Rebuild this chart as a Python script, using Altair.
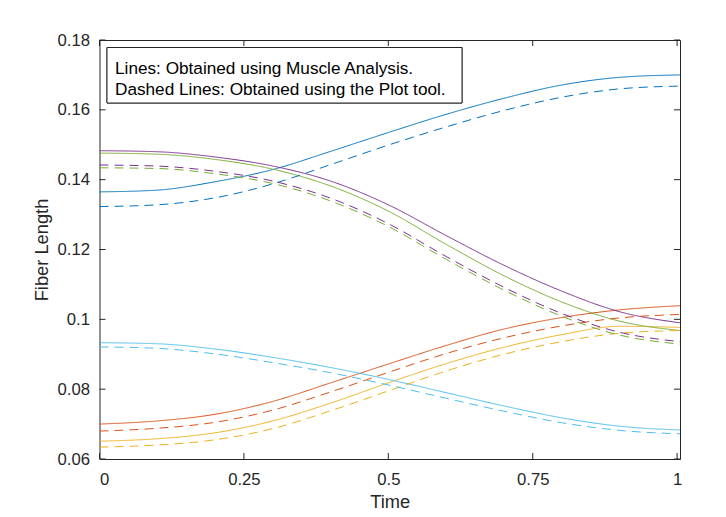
import altair as alt
import pandas as pd

# ---- data ----
times = [0.0, 0.1, 0.2, 0.3, 0.4, 0.5, 0.6, 0.7, 0.8, 0.9, 1.005]

muscle_names = ["M1", "M2", "M3", "M4", "M5", "M6"]
muscle_colors = ["#0072BD", "#D95319", "#EDB120", "#7E2F8E", "#77AC30", "#4DBEEE"]

# Solid lines: Muscle Analysis
ma_m1 = [0.1365, 0.1370, 0.1394, 0.1429, 0.1481, 0.1535, 0.1587, 0.1633, 0.1671, 0.1693, 0.1700]
ma_m2 = [0.0700, 0.0709, 0.0728, 0.0765, 0.0818, 0.0872, 0.0925, 0.0972, 0.1005, 0.1027, 0.1039]
ma_m3 = [0.0651, 0.0658, 0.0675, 0.0709, 0.0760, 0.0818, 0.0873, 0.0920, 0.0956, 0.0980, 0.0977]
ma_m4 = [0.1483, 0.1480, 0.1465, 0.1439, 0.1396, 0.1328, 0.1240, 0.1155, 0.1081, 0.1022, 0.0990]
ma_m5 = [0.1476, 0.1473, 0.1458, 0.1430, 0.1382, 0.1310, 0.1215, 0.1125, 0.1050, 0.0995, 0.0968]
ma_m6 = [0.0933, 0.0930, 0.0915, 0.0891, 0.0862, 0.0828, 0.0790, 0.0752, 0.0718, 0.0694, 0.0683]

# Dashed lines: Plot tool
pt_m1 = [0.1323, 0.1328, 0.1348, 0.1388, 0.1443, 0.1499, 0.1551, 0.1598, 0.1636, 0.1660, 0.1668]
pt_m2 = [0.0680, 0.0688, 0.0705, 0.0740, 0.0792, 0.0848, 0.0902, 0.0947, 0.0981, 0.1004, 0.1014]
pt_m3 = [0.0634, 0.0640, 0.0655, 0.0687, 0.0738, 0.0795, 0.0852, 0.0900, 0.0936, 0.0960, 0.0968]
pt_m4 = [0.1442, 0.1439, 0.1424, 0.1396, 0.1347, 0.1274, 0.1180, 0.1092, 0.1017, 0.0963, 0.0936]
pt_m5 = [0.1434, 0.1432, 0.1417, 0.1389, 0.1339, 0.1266, 0.1172, 0.1084, 0.1009, 0.0955, 0.0929]
pt_m6 = [0.0921, 0.0917, 0.0901, 0.0876, 0.0847, 0.0812, 0.0774, 0.0737, 0.0704, 0.0682, 0.0672]

x_ticks = [0, 0.25, 0.5, 0.75, 1]
y_ticks = [0.06, 0.08, 0.1, 0.12, 0.14, 0.16, 0.18]
note_lines = ["Lines: Obtained using Muscle Analysis.",
              "Dashed Lines: Obtained using the Plot tool."]

# ---- build table ----
rows = []
for method, series in [("Muscle Analysis", [ma_m1, ma_m2, ma_m3, ma_m4, ma_m5, ma_m6]),
                       ("Plot tool", [pt_m1, pt_m2, pt_m3, pt_m4, pt_m5, pt_m6])]:
    for name, vals in zip(muscle_names, series):
        for t, v in zip(times, vals):
            rows.append({"time": t, "value": v, "muscle": name, "method": method})
df = pd.DataFrame(rows)

W, H = 580.5, 419
FONT = "Liberation Sans"
INK = "#262626"

xscale = alt.Scale(domain=[0, 1.005], nice=False, zero=False)
yscale = alt.Scale(domain=[0.06, 0.18], nice=False, zero=False)

lines = alt.Chart(df).mark_line(strokeWidth=1, interpolate="monotone", clip=True).encode(
    x=alt.X("time:Q", scale=xscale,
            axis=alt.Axis(values=x_ticks, format="~g", title="Time", ticks=False, tickSize=0,
                          domain=False, grid=False, labelPadding=12, titlePadding=6)),
    y=alt.Y("value:Q", scale=yscale,
            axis=alt.Axis(values=y_ticks, format="~g", title="Fiber Length", ticks=False, tickSize=0,
                          domain=False, grid=False, labelPadding=10, titlePadding=6)),
    color=alt.Color("muscle:N", scale=alt.Scale(domain=muscle_names, range=muscle_colors), legend=None),
    strokeDash=alt.StrokeDash("method:N",
                              scale=alt.Scale(domain=["Muscle Analysis", "Plot tool"], range=[[1, 0], [9, 6]]),
                              legend=None),
)

xt = pd.DataFrame({"t": x_ticks})
yt = pd.DataFrame({"v": y_ticks})
TL = 6
xtick_bottom = alt.Chart(xt).mark_rule(color=INK, strokeWidth=1).encode(
    x=alt.X("t:Q", scale=xscale), y=alt.value(H), y2=alt.value(H - TL))
xtick_top = alt.Chart(xt).mark_rule(color=INK, strokeWidth=1).encode(
    x=alt.X("t:Q", scale=xscale), y=alt.value(0), y2=alt.value(TL))
ytick_left = alt.Chart(yt).mark_rule(color=INK, strokeWidth=1).encode(
    y=alt.Y("v:Q", scale=yscale), x=alt.value(0), x2=alt.value(TL))
ytick_right = alt.Chart(yt).mark_rule(color=INK, strokeWidth=1).encode(
    y=alt.Y("v:Q", scale=yscale), x=alt.value(W), x2=alt.value(W - TL))

note_df = pd.DataFrame({"line": note_lines})
note_box = alt.Chart(note_df).mark_rect(fill="white", stroke=INK, strokeWidth=1).encode(
    x=alt.value(7.5), x2=alt.value(362.5), y=alt.value(7.5), y2=alt.value(63))
note1 = alt.Chart(pd.DataFrame({"line": [note_lines[0]]})).mark_text(
    align="left", baseline="middle", font=FONT, fontSize=17.2, color="black").encode(
    text="line:N", x=alt.value(15.5), y=alt.value(29.3))
note2 = alt.Chart(pd.DataFrame({"line": [note_lines[1]]})).mark_text(
    align="left", baseline="middle", font=FONT, fontSize=17.2, color="black").encode(
    text="line:N", x=alt.value(15.5), y=alt.value(50.2))

chart = alt.layer(lines, xtick_bottom, xtick_top, ytick_left, ytick_right,
                  note_box, note1, note2).properties(
    width=W, height=H,
    autosize=alt.AutoSizeParams(type="none"),
    padding={"left": 91.5, "top": 32, "right": 30, "bottom": 58},
    background="white",
).configure_view(stroke=INK, strokeWidth=1).configure_axis(
    labelFont=FONT, labelFontSize=16.7, labelColor=INK,
    titleFont=FONT, titleFontSize=18.3, titleColor=INK, titleFontWeight="normal",
)

chart.save("out.html", embed_options={"renderer": "svg", "actions": False})
